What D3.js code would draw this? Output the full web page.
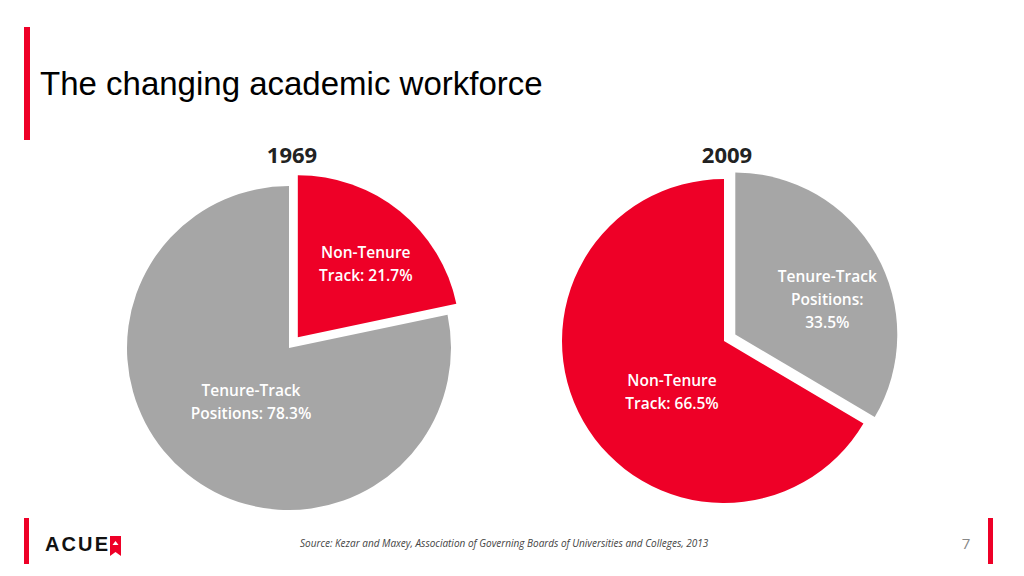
<!DOCTYPE html><html><head><meta charset="utf-8">
<script src="https://cdn.jsdelivr.net/npm/d3@7"></script>
<style>body{margin:0;background:#fff}</style></head><body>
<svg id="c" width="1024" height="576"></svg>
<script>
const years = ["1969","2009"];
const categories1969 = ["Non-Tenure Track","Tenure-Track Positions"];
const values1969 = [21.7, 78.3];
const categories2009 = ["Tenure-Track Positions","Non-Tenure Track"];
const values2009 = [33.5, 66.5];
const RED="#EE0027", GRAY="#A6A6A6";
const svg=d3.select("#c");
const font="'Open Sans', Lato, sans-serif";
svg.append("rect").attr("x",24).attr("y",27).attr("width",6).attr("height",113).attr("fill",RED);
svg.append("text").attr("x",40).attr("y",95).attr("font-family","Liberation Sans, Arial, sans-serif").attr("font-size",33).text("The changing academic workforce");

function drawPie(cx,cy,r,title,cats,vals,colors,explode,labels){
  const pie=d3.pie().sort(null).value(d=>d)(vals);
  const arc=d3.arc().innerRadius(0).outerRadius(r);
  const g=svg.append("g").attr("transform",`translate(${cx},${cy})`);
  pie.forEach((p,i)=>{
    const m=(p.startAngle+p.endAngle)/2;
    const d=explode[i];
    const gg=g.append("g").attr("transform",`translate(${Math.sin(m)*d},${-Math.cos(m)*d})`);
    gg.append("path").attr("d",arc(p)).attr("fill",colors[i]);
    const t=gg.append("text").attr("text-anchor","middle").attr("font-family",font).attr("font-weight",600).attr("font-size",15.5).attr("fill","#fff");
    labels[i].lines.forEach((l,k)=>t.append("tspan").attr("x",labels[i].x).attr("y",labels[i].y+k*23).text(l));
  });
  svg.append("text").attr("x",cx+3).attr("y",163).attr("text-anchor","middle").attr("font-family",font).attr("font-weight",700).attr("font-size",22).attr("fill","#222").text(title);
}
drawPie(289,348,162,years[0],categories1969,values1969,[RED,GRAY],[14,0],
 [{x:68,y:-79,lines:["Non-Tenure","Track: "+values1969[0]+"%"]},{x:-38,y:48,lines:["Tenure-Track","Positions: "+values1969[1]+"%"]}]);
drawPie(724,341,162,years[1],categories2009,values2009,[GRAY,RED],[13,0],
 [{x:92,y:-53,lines:["Tenure-Track","Positions:",values2009[0]+"%"]},{x:-52,y:45,lines:["Non-Tenure","Track: "+values2009[1]+"%"]}]);

svg.append("rect").attr("x",24).attr("y",518).attr("width",5).attr("height",46).attr("fill",RED);
svg.append("rect").attr("x",988).attr("y",518).attr("width",5).attr("height",46).attr("fill",RED);
svg.append("text").attr("x",45).attr("y",551).attr("font-family","Liberation Sans, Arial").attr("font-weight",700).attr("font-size",20).attr("fill","#111").attr("textLength",63).text("ACUE");
svg.append("path").attr("d","M110,536 h11 v20 l-5.5,-4 l-5.5,4 z").attr("fill",RED);
svg.append("path").attr("d","M112.5,545 l3,-4 l3,4 z").attr("fill","#fff");
svg.append("text").attr("x",300).attr("y",547).attr("font-family",font).attr("font-style","italic").attr("font-size",10).attr("fill","#444").text("Source: Kezar and Maxey, Association of Governing Boards of Universities and Colleges, 2013");
svg.append("text").attr("x",966).attr("y",549).attr("text-anchor","middle").attr("font-family",font).attr("font-size",15).attr("fill","#888").text("7");
</script></body></html>
